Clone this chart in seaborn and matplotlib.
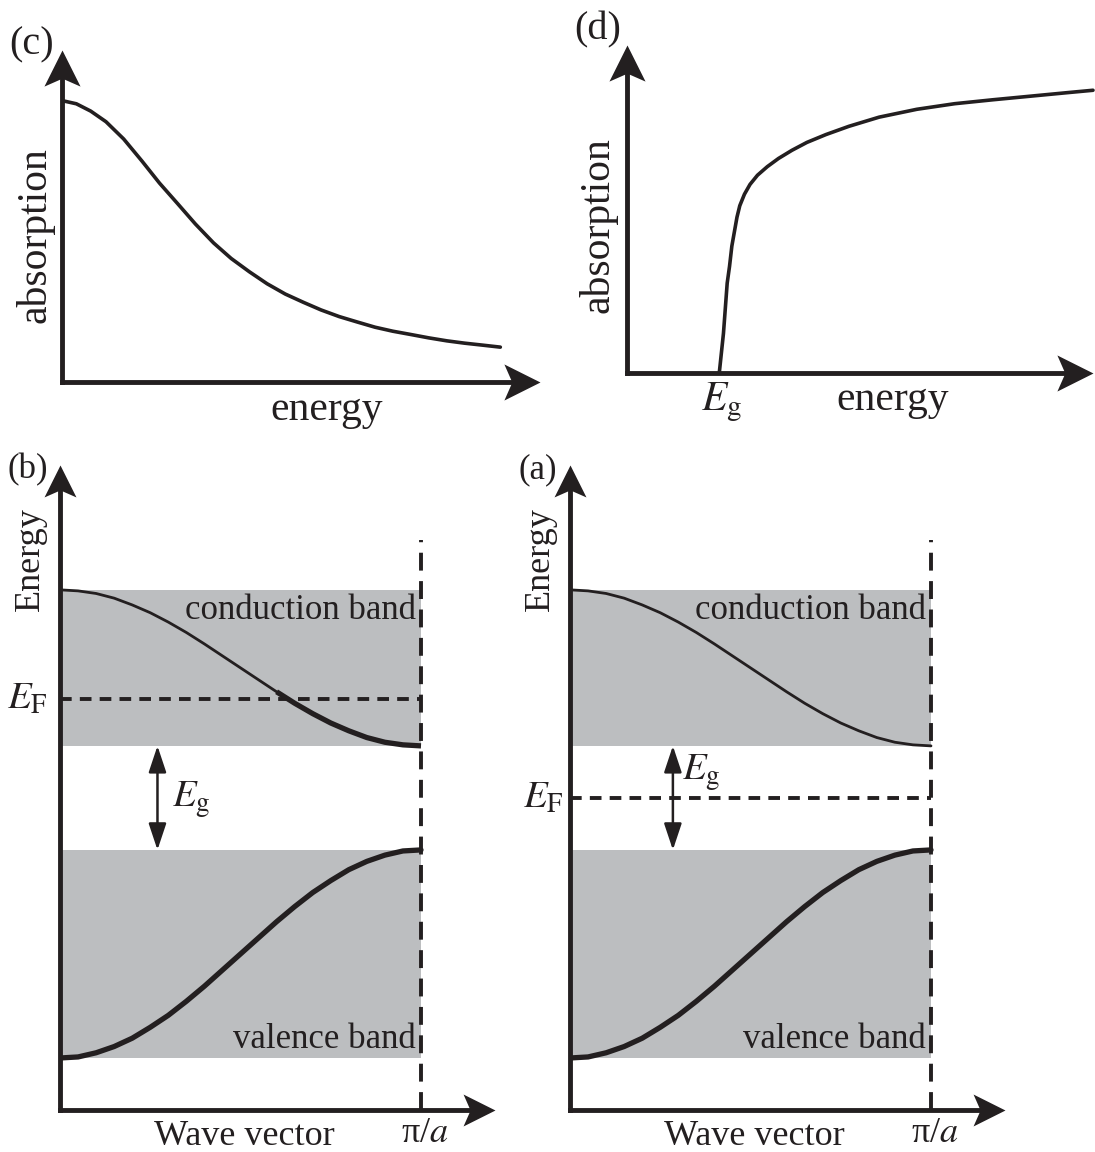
import matplotlib
matplotlib.use("Agg")
import matplotlib.pyplot as plt
import numpy as np
import seaborn as sns
from matplotlib.path import Path
from matplotlib.transforms import Affine2D

# (c) absorption of a metal (Drude-like tail), energy units: axis tip = 10
c_energy = [0.02, 0.30, 0.60, 0.92, 1.29, 1.67, 2.04, 2.42, 2.79, 3.17, 3.54, 3.92, 4.29, 4.67,
            5.05, 5.42, 5.80, 6.17, 6.55, 6.92, 7.30, 7.67, 8.05, 8.42, 8.80, 9.17]
c_absorption = [8.47, 8.38, 8.16, 7.84, 7.32, 6.66, 5.99, 5.37, 4.76, 4.19, 3.72, 3.32, 2.96, 2.65,
                2.40, 2.17, 1.97, 1.81, 1.65, 1.53, 1.43, 1.33, 1.24, 1.17, 1.11, 1.05]

# (d) absorption of a semiconductor, onset at Eg
d_energy = [1.98, 2.07, 2.15, 2.20, 2.25, 2.30, 2.36, 2.42, 2.52, 2.64, 2.80, 3.01, 3.25, 3.54,
            3.86, 4.27, 4.76, 5.41, 6.22, 7.03, 7.85, 8.66, 9.47, 10.0]
d_absorption = [0.0, 1.21, 2.74, 3.25, 3.87, 4.27, 4.75, 5.10, 5.45, 5.75, 6.03, 6.29, 6.54, 6.79,
                7.03, 7.27, 7.52, 7.80, 8.04, 8.21, 8.33, 8.44, 8.55, 8.62]
d_gap = 1.98

# (a), (b) band diagrams, wave vector in units of pi/a
wave_vector = [0.0, 0.05, 0.10, 0.15, 0.20, 0.25, 0.30, 0.35, 0.40, 0.45, 0.50,
               0.55, 0.60, 0.65, 0.70, 0.75, 0.80, 0.85, 0.90, 0.95, 1.0]
conduction = [10.00, 9.98, 9.93, 9.84, 9.71, 9.56, 9.38, 9.18, 8.96, 8.73, 8.50,
              8.27, 8.04, 7.82, 7.62, 7.44, 7.29, 7.16, 7.07, 7.02, 7.00]
valence = [1.00, 1.02, 1.10, 1.22, 1.38, 1.59, 1.82, 2.09, 2.38, 2.69, 3.00,
           3.31, 3.62, 3.91, 4.18, 4.41, 4.62, 4.78, 4.90, 4.98, 5.00]
cond_band = (7.0, 10.0)
val_band = (1.0, 5.0)
fermi_b = 7.9
fermi_a = 6.0

INK = "#231f20"
GREY = "#bcbec0"
W, H = 1095, 1152

sns.set_theme(style="white")
plt.rcParams["font.family"] = ["Liberation Serif", "DejaVu Serif"]
plt.rcParams["mathtext.fontset"] = "stix"

fig = plt.figure(figsize=(W / 100, H / 100), dpi=100)

# stealth-like arrow head pointing right, tip at the marker centre
STEALTH = Path([(0, 0), (-1.0, 0.5), (-0.78, 0), (-1.0, -0.5), (0, 0)],
               [Path.MOVETO, Path.LINETO, Path.LINETO, Path.LINETO, Path.CLOSEPOLY])


def head(ax, x, y, angle, size):
    marker = STEALTH.transformed(Affine2D().rotate_deg(angle))
    ax.plot([x], [y], marker=marker, markersize=size, color=INK, mew=0, clip_on=False)


def panel(origin, tip, xmax, ymax, hsize):
    # axes whose data box [0,xmax]x[0,ymax] sits on the given pixel box
    x0, y0 = origin
    x1, y1 = tip
    ax = fig.add_axes([x0 / W, (H - y0) / H, (x1 - x0) / W, (y0 - y1) / H])
    ax.set_xlim(0, xmax)
    ax.set_ylim(0, ymax)
    ax.axis("off")
    ax.plot([0, xmax * 0.96], [0, 0], color=INK, lw=3.5, clip_on=False, solid_capstyle="projecting")
    ax.plot([0, 0], [0, ymax * 0.96], color=INK, lw=3.5, clip_on=False, solid_capstyle="projecting")
    head(ax, xmax, 0, 0, hsize)
    head(ax, 0, ymax, 90, hsize)
    return ax


# ---- (c)
ax_c = panel((62, 382), (540, 50), 10, 10, 52)
sns.lineplot(x=c_energy, y=c_absorption, ax=ax_c, color=INK, lw=2.6, sort=False, estimator=None)
ax_c.text(-0.63, 10.15, "(c)", fontsize=29, color=INK, ha="center", va="center")
ax_c.text(-0.57, 4.43, "absorption", fontsize=30, color=INK, rotation=90, ha="center", va="center")
ax_c.text(5.54, -0.84, "energy", fontsize=30, color=INK, ha="center", va="center")

# ---- (d)
ax_d = panel((627, 373), (1093, 45), 10, 10, 52)
sns.lineplot(x=d_energy, y=d_absorption, ax=ax_d, color=INK, lw=2.6, sort=False, estimator=None)
for line in ax_d.lines:
    line.set_clip_on(False)
ax_d.text(-0.62, 10.46, "(d)", fontsize=29, color=INK, ha="center", va="center")
ax_d.text(-0.62, 4.51, "absorption", fontsize=30, color=INK, rotation=90, ha="center", va="center")
ax_d.text(d_gap + 0.06, -0.88, r"$E_{\mathrm{g}}$", fontsize=30, color=INK, ha="center", va="center")
ax_d.text(5.69, -0.82, "energy", fontsize=30, color=INK, ha="center", va="center")


def band_panel(origin, xtip, label, fermi, gap_x, gap_label_xy, ef_x):
    ax = panel(origin, (xtip, 465), (xtip - origin[0]) / 361, 12.4, 46)
    ax.fill_between([0, 1], cond_band[0], cond_band[1], color=GREY, lw=0)
    ax.fill_between([0, 1], val_band[0], val_band[1], color=GREY, lw=0)

    k = np.array(wave_vector)
    ec = np.array(conduction)
    # part of the conduction band below E_F is occupied: drawn bold
    below = ec <= fermi
    idx = np.argmax(below) if below.any() else len(ec)
    sns.lineplot(x=k[:idx + 1], y=ec[:idx + 1], ax=ax, color=INK, lw=2.0,
                 sort=False, estimator=None)
    if idx < len(ec):
        sns.lineplot(x=k[max(idx - 1, 0):], y=ec[max(idx - 1, 0):], ax=ax, color=INK, lw=3.8,
                     sort=False, estimator=None, solid_capstyle="butt")
    sns.lineplot(x=wave_vector, y=valence, ax=ax, color=INK, lw=3.8, sort=False, estimator=None)

    ax.plot([0, 1], [fermi, fermi], color=INK, lw=2.8, ls=(0, (3.0, 2.1)))
    ax.plot([1, 1], [0, 10.96], color=INK, lw=2.8, ls=(0, (4.6, 2.7)), clip_on=False)

    ax.annotate("", xy=(gap_x, val_band[1]), xytext=(gap_x, cond_band[0]),
                arrowprops=dict(arrowstyle="<|-|>,head_length=0.9,head_width=0.3", lw=1.8,
                                color=INK, mutation_scale=18, shrinkA=0, shrinkB=0))
    ax.text(gap_label_xy[0], gap_label_xy[1], r"$E_{\mathrm{g}}$", fontsize=28, color=INK,
            ha="left", va="center")
    ax.text(ef_x, fermi, r"$E_{\mathrm{F}}$", fontsize=28, color=INK, ha="center", va="center")

    ax.text(0.985, 9.6, "conduction band", fontsize=25, color=INK, ha="right", va="center")
    ax.text(0.985, 1.35, "valence band", fontsize=25, color=INK, ha="right", va="center")
    ax.text(0.51, -0.5, "Wave vector", fontsize=26, color=INK, ha="center", va="center")
    ax.text(1.01, -0.45, "π/$a$", fontsize=26, color=INK, ha="center", va="center")
    ax.text(-0.083, 10.6, "Energy", fontsize=26, color=INK, rotation=90, ha="center", va="center")
    ax.text(-0.09, 12.3, label, fontsize=25, color=INK, ha="center", va="center")
    return ax


# ---- (b) metal-like: E_F inside conduction band
band_panel((60, 1110), 495, "(b)", fermi_b, 0.27, (0.31, 5.96), -0.09)
# ---- (a) semiconductor: E_F in the gap
band_panel((570, 1110), 1005, "(a)", fermi_a, 0.285, (0.31, 6.48), -0.075)

fig.savefig("out.png", dpi=100)
